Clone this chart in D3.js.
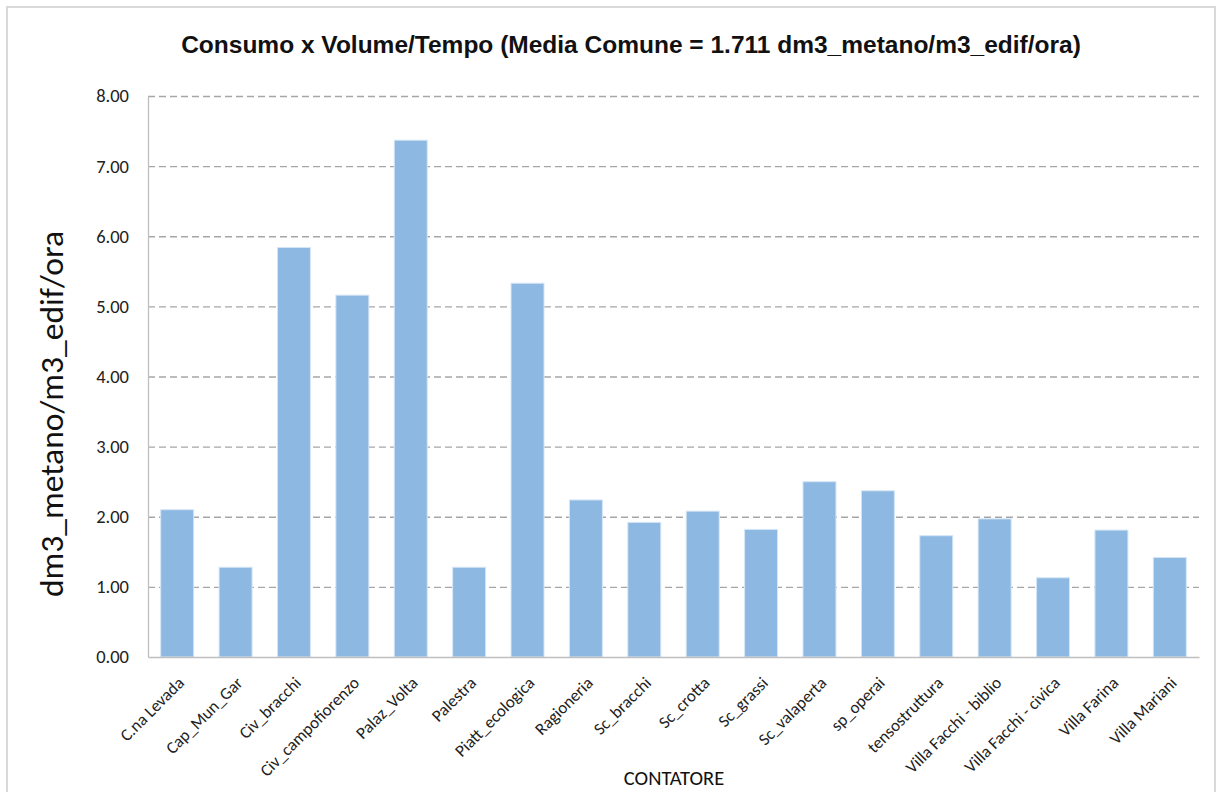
<!DOCTYPE html>
<html>
<head>
<meta charset="utf-8">
<script src="https://cdn.jsdelivr.net/npm/d3@7"></script>
<style>
  html, body { margin: 0; padding: 0; background: #fff; }
  svg { display: block; }
</style>
</head>
<body>
<svg id="chart" width="1217" height="792"></svg>
<script>
// Meter names and hourly methane consumption per building volume
const categories = [
  "C.na Levada", "Cap_Mun_Gar", "Civ_bracchi", "Civ_campofiorenzo", "Palaz_Volta",
  "Palestra", "Piatt_ecologica", "Ragioneria", "Sc_bracchi", "Sc_crotta",
  "Sc_grassi", "Sc_valaperta", "sp_operai", "tensostruttura",
  "Villa Facchi - biblio", "Villa Facchi - civica", "Villa Farina", "Villa Mariani"
];
const values = [
  2.10, 1.28, 5.84, 5.16, 7.37,
  1.28, 5.33, 2.24, 1.92, 2.08,
  1.82, 2.50, 2.37, 1.73,
  1.97, 1.13, 1.81, 1.42
];
const yTicks = [0, 1, 2, 3, 4, 5, 6, 7, 8];

const titleText = "Consumo x Volume/Tempo (Media Comune = 1.711 dm3_metano/m3_edif/ora)";
const yTitle = "dm3_metano/m3_edif/ora";
const xTitle = "CONTATORE";

const svg = d3.select("#chart");
const bodyFont = "Calibri, Carlito, 'Open Sans', Lato, sans-serif";

// outer frame
svg.append("rect")
  .attr("x", 7).attr("y", 7)
  .attr("width", 1208).attr("height", 800)
  .attr("fill", "#fff")
  .attr("stroke", "#d9d9d9")
  .attr("stroke-width", 2);

const plot = { left: 148, right: 1199, top: 96, bottom: 657 };

const x = d3.scaleBand()
  .domain(categories)
  .range([plot.left, plot.right])
  .paddingInner(0.435)
  .paddingOuter(0.2175);

const y = d3.scaleLinear()
  .domain([0, 8])
  .range([plot.bottom, plot.top]);

// dashed horizontal gridlines
svg.append("g")
  .selectAll("line")
  .data(yTicks.filter(d => d > 0))
  .join("line")
  .attr("x1", plot.left).attr("x2", plot.right)
  .attr("y1", d => y(d) + 0.5).attr("y2", d => y(d) + 0.5)
  .attr("stroke", "#a6a6a6")
  .attr("stroke-width", 1.3)
  .attr("stroke-dasharray", "7,4");

// bars
svg.append("g")
  .selectAll("rect")
  .data(values)
  .join("rect")
  .attr("x", (d, i) => x(categories[i]))
  .attr("y", d => y(d))
  .attr("width", x.bandwidth())
  .attr("height", d => y(0) - y(d))
  .attr("fill", "#8db8e2")
  .attr("stroke", "#d6e6f6")
  .attr("stroke-width", 1);

// y axis
const yAxis = svg.append("g")
  .attr("transform", `translate(${plot.left},0)`)
  .call(d3.axisLeft(y).tickValues(yTicks).tickFormat(d3.format(".2f")).tickSize(0).tickPadding(19));
yAxis.select(".domain").attr("stroke", "#bfbfbf").attr("stroke-width", 1.3);
yAxis.selectAll("text")
  .attr("font-family", bodyFont)
  .attr("font-size", 18.5)
  .attr("fill", "#222");

// x axis
const xAxis = svg.append("g")
  .attr("transform", `translate(0,${plot.bottom})`)
  .call(d3.axisBottom(x).tickSize(0).tickPadding(0));
xAxis.select(".domain").attr("stroke", "#bfbfbf").attr("stroke-width", 1.5);
xAxis.selectAll("text")
  .attr("font-family", bodyFont)
  .attr("font-size", 17)
  .attr("fill", "#222")
  .attr("text-anchor", "end")
  .attr("dy", 0)
  .attr("y", 0)
  .attr("transform", "translate(8,27) rotate(-45)");

// chart title
svg.append("text")
  .attr("x", 631).attr("y", 53)
  .attr("text-anchor", "middle")
  .attr("font-family", "'Liberation Sans', Arial, sans-serif")
  .attr("font-weight", "bold")
  .attr("font-size", 24.5)
  .attr("fill", "#111")
  .text(titleText);

// y axis title
svg.append("text")
  .attr("transform", "translate(63,414) rotate(-90)")
  .attr("text-anchor", "middle")
  .attr("font-family", bodyFont)
  .attr("font-size", 33.5)
  .attr("fill", "#111")
  .text(yTitle);

// x axis title
svg.append("text")
  .attr("x", 674).attr("y", 785)
  .attr("text-anchor", "middle")
  .attr("font-family", bodyFont)
  .attr("font-size", 20.5)
  .attr("fill", "#111")
  .text(xTitle);
</script>
</body>
</html>
